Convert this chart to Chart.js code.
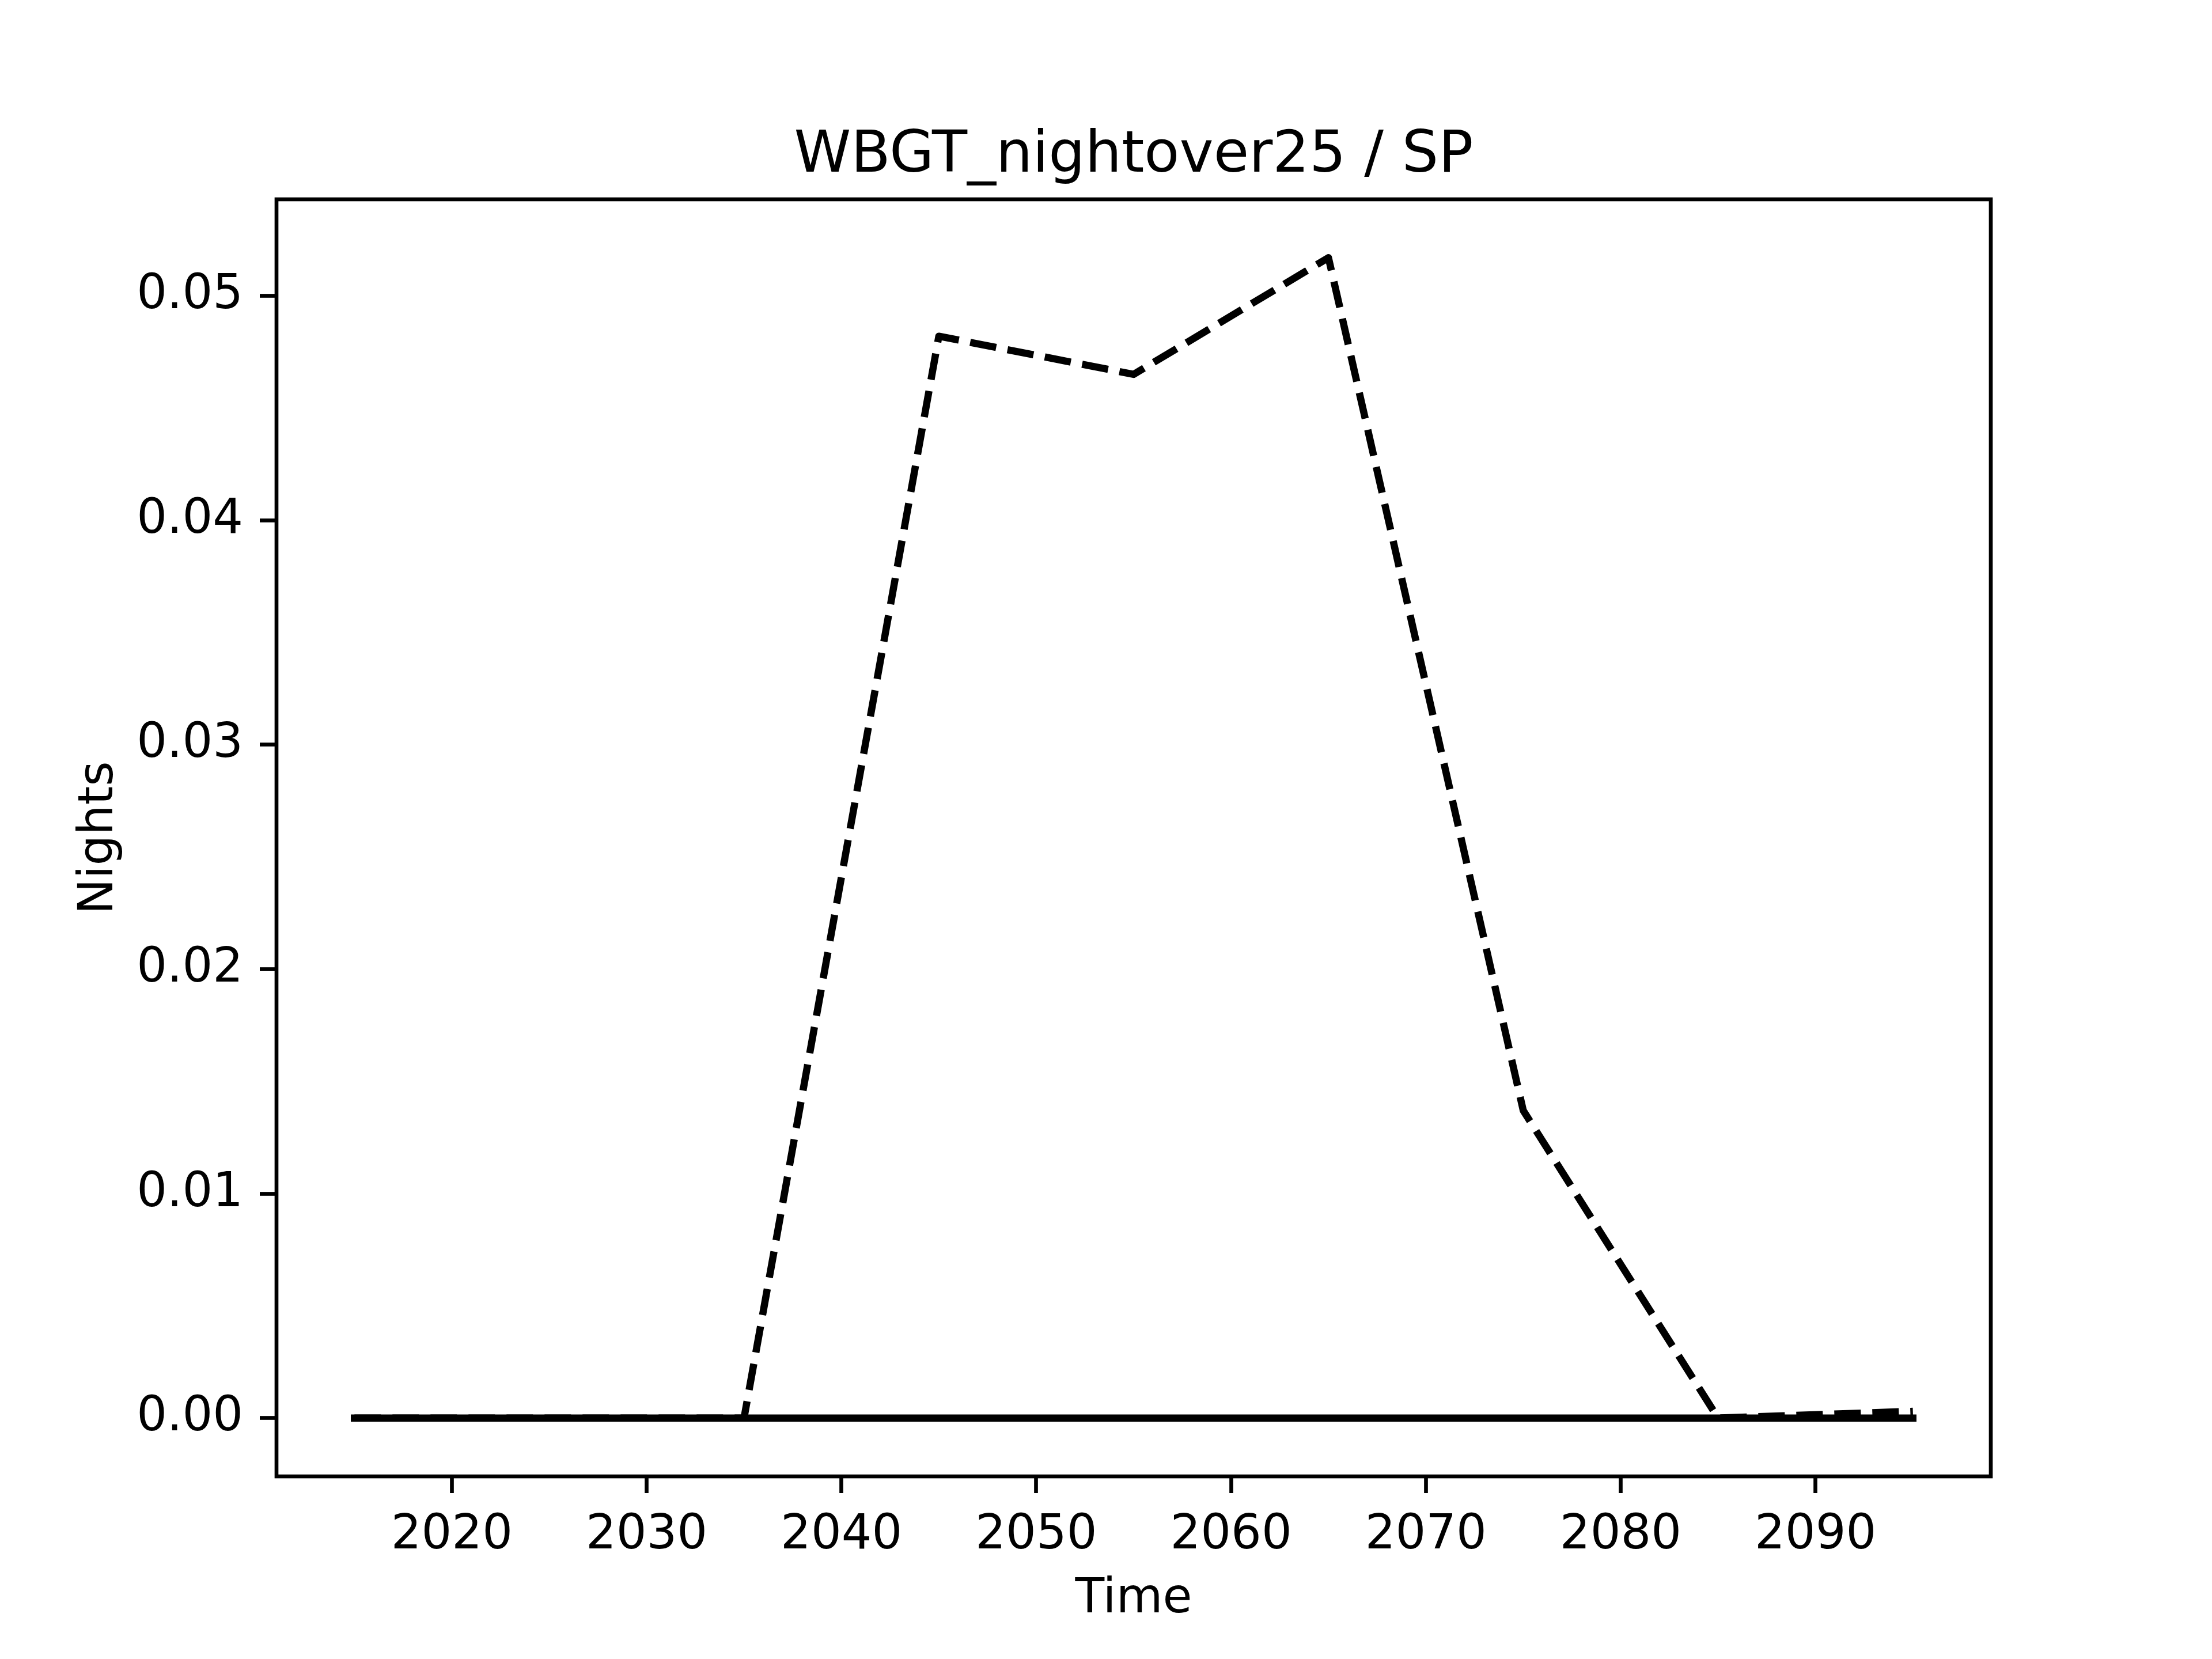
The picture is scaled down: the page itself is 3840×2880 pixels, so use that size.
<!DOCTYPE html>
<html>
<head>
<meta charset="utf-8">
<script src="https://cdn.jsdelivr.net/npm/chart.js@4"></script>
<style>
  body { margin: 0; background: #fff; }
  canvas { display: block; }
</style>
</head>
<body>
<canvas id="wbgtChart" width="3840" height="2880"></canvas>
<script>
// values
const years = [2015, 2025, 2035, 2045, 2055, 2065, 2075, 2085, 2095];
const solidValues = [0, 0, 0, 0, 0, 0, 0, 0, 0];
const dashedValues = [0, 0, 0, 0.0482, 0.0465, 0.0517, 0.0137, 0, 0.0003];
const xTicks = [2020, 2030, 2040, 2050, 2060, 2070, 2080, 2090];
const yTicks = [0, 0.01, 0.02, 0.03, 0.04, 0.05];

const FONT = "'DejaVu Sans', sans-serif";

function toPoints(values) {
  return years.map((year, i) => ({ x: year, y: values[i] }));
}

// draws the four-sided box around the plot area like matplotlib spines
const frameBox = {
  id: "frameBox",
  afterDraw(chart) {
    const { ctx, chartArea } = chart;
    ctx.save();
    ctx.strokeStyle = "#000";
    ctx.lineWidth = 6.67;
    ctx.strokeRect(chartArea.left, chartArea.top, chartArea.right - chartArea.left, chartArea.bottom - chartArea.top);
    ctx.restore();
  },
};

const ctx = document.getElementById("wbgtChart");

new Chart(ctx, {
  type: "line",
  data: {
    datasets: [
      {
        label: "solid",
        data: toPoints(solidValues),
        borderColor: "#000",
        borderWidth: 12.5,
        borderCapStyle: "square",
        borderJoinStyle: "round",
        pointRadius: 0,
        tension: 0,
        fill: false,
      },
      {
        label: "dashed",
        data: toPoints(dashedValues),
        borderColor: "#000",
        borderWidth: 12.5,
        borderDash: [46, 20],
        borderCapStyle: "butt",
        borderJoinStyle: "round",
        pointRadius: 0,
        tension: 0,
        fill: false,
      },
    ],
  },
  options: {
    responsive: false,
    devicePixelRatio: 1,
    animation: false,
    // left padding keeps the title centred over the plot area
    layout: { padding: { left: 96, right: 0, top: 0, bottom: 0 } },
    plugins: {
      legend: { display: false },
      tooltip: { enabled: false },
      title: {
        display: true,
        text: "WBGT_nightover25 / SP",
        color: "#000",
        font: { family: FONT, size: 100, weight: "normal", lineHeight: 1.2 },
        padding: { top: 212, bottom: 14 },
      },
    },
    scales: {
      x: {
        type: "linear",
        min: 2011,
        max: 2099,
        afterBuildTicks: (scale) => {
          scale.ticks = xTicks.map((v) => ({ value: v }));
        },
        afterFit: (scale) => {
          scale.height = 317;
        },
        ticks: {
          color: "#000",
          font: { family: FONT, size: 83 },
          padding: 25,
          maxRotation: 0,
          autoSkip: false,
          callback: (v) => String(v),
        },
        grid: {
          drawOnChartArea: false,
          drawTicks: true,
          tickLength: 29,
          tickWidth: 6.67,
          tickColor: "#000",
        },
        border: { display: false },
        title: {
          display: true,
          text: "Time",
          color: "#000",
          font: { family: FONT, size: 83, lineHeight: 1.2 },
          padding: { top: 0, bottom: 53 },
        },
      },
      y: {
        type: "linear",
        min: -0.0026,
        max: 0.0543,
        afterBuildTicks: (scale) => {
          scale.ticks = yTicks.map((v) => ({ value: v }));
        },
        afterFit: (scale) => {
          scale.width = 384;
        },
        ticks: {
          color: "#000",
          font: { family: FONT, size: 83 },
          padding: 29,
          autoSkip: false,
          callback: (v) => Number(v).toFixed(2),
        },
        grid: {
          drawOnChartArea: false,
          drawTicks: true,
          tickLength: 29,
          tickWidth: 6.67,
          tickColor: "#000",
        },
        border: { display: false },
        title: {
          display: true,
          text: "Nights",
          color: "#000",
          font: { family: FONT, size: 83, lineHeight: 1.2 },
          padding: { top: 28, bottom: 0 },
        },
      },
      // empty axis that only reserves the white margin on the right
      yRight: {
        type: "linear",
        position: "right",
        display: true,
        afterFit: (scale) => {
          scale.width = 384;
        },
        ticks: { display: false },
        grid: { display: false },
        border: { display: false },
      },
    },
  },
  plugins: [frameBox],
});
</script>
</body>
</html>
